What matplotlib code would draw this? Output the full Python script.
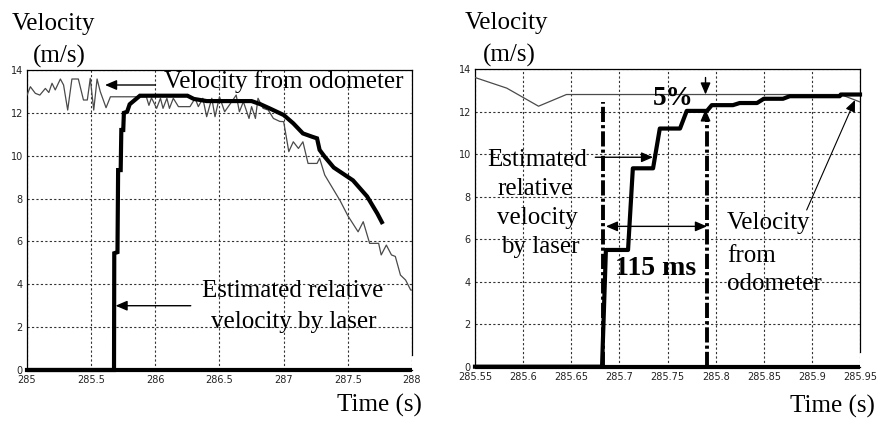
import matplotlib
matplotlib.use('Agg')
import matplotlib.pyplot as plt

# ---------------- data ----------------
# Left panel
left_xticks = [285, 285.5, 286, 286.5, 287, 287.5, 288]
left_xticklabels = ['285', '285.5', '286', '286.5', '287', '287.5', '288']
yticks = [0, 2, 4, 6, 8, 10, 12, 14]
yticklabels = ['0', '2', '4', '6', '8', '10', '12', '14']

odo_t_left = [285.0, 285.026, 285.065, 285.10, 285.143, 285.17, 285.195, 285.22,
              285.26, 285.285, 285.317, 285.35, 285.40, 285.44, 285.47, 285.493,
              285.52, 285.546, 285.571, 285.616, 285.65, 285.93, 285.95, 285.97,
              286.01, 286.04, 286.06, 286.09, 286.11, 286.14, 286.18, 286.27,
              286.31, 286.335, 286.37, 286.40, 286.44, 286.465, 286.50, 286.54,
              286.595, 286.63, 286.655, 286.686, 286.73, 286.75, 286.78, 286.80,
              286.84, 286.88, 286.92, 286.97, 287.0, 287.04, 287.075, 287.115,
              287.15, 287.19, 287.26, 287.28, 287.32, 287.37, 287.44, 287.50,
              287.58, 287.62, 287.67, 287.74, 287.76, 287.80, 287.84, 287.87,
              287.91, 287.95, 287.99, 288.0]
odo_v_left = [12.83, 13.22, 12.91, 12.83, 13.14, 12.95, 13.38, 13.07,
              13.58, 13.30, 12.13, 13.58, 13.58, 12.60, 12.60, 13.61,
              12.13, 13.58, 12.99, 12.24, 12.75, 12.75, 12.35, 12.70,
              12.21, 12.68, 12.21, 12.68, 12.21, 12.68, 12.29, 12.29,
              12.68, 12.29, 12.68, 11.82, 12.68, 11.82, 12.75, 12.05,
              12.52, 12.83, 12.05, 12.52, 11.74, 12.29, 11.74, 12.68,
              12.21, 12.13, 11.74, 11.60, 11.59, 10.19, 10.65, 10.34,
              10.65, 9.64, 9.64, 9.88, 9.10, 8.60, 7.90, 7.20,
              6.45, 6.92, 5.91, 5.91, 5.37, 5.83, 5.37, 5.30,
              4.43, 4.20, 3.73, 3.73]

laser_t_left = [285.0, 285.678, 285.68, 285.705, 285.71, 285.73, 285.735, 285.75,
                285.755, 285.78, 285.80, 285.84, 285.88, 286.25, 286.30, 286.40,
                286.75, 286.82, 286.89, 287.0, 287.075, 287.15, 287.22, 287.26,
                287.28, 287.32, 287.39, 287.54, 287.65, 287.73, 287.765]
laser_v_left = [0, 0, 5.45, 5.5, 9.33, 9.33, 11.2, 11.2,
                12.0, 12.05, 12.4, 12.6, 12.8, 12.8, 12.65, 12.55,
                12.55, 12.4, 12.21, 11.9, 11.51, 11.04, 10.89, 10.81,
                10.27, 9.95, 9.45, 8.85, 8.1, 7.3, 6.9]
baseline_t_left = [285.0, 288.0]
baseline_v_left = [0, 0]

# Right panel
right_xticks = [285.55, 285.6, 285.65, 285.7, 285.75, 285.8, 285.85, 285.9, 285.95]
right_xticklabels = ['285.55', '285.6', '285.65', '285.7', '285.75', '285.8',
                     '285.85', '285.9', '285.95']

odo_t_right = [285.55, 285.583, 285.616, 285.645, 285.93, 285.95]
odo_v_right = [13.6, 13.1, 12.25, 12.8, 12.8, 12.45]

laser_t_right = [285.55, 285.682, 285.686, 285.709, 285.714, 285.735, 285.742, 285.763,
                 285.770, 285.791, 285.796, 285.818, 285.825, 285.843, 285.85, 285.87,
                 285.877, 285.929, 285.93, 285.95]
laser_v_right = [0, 0, 5.49, 5.49, 9.33, 9.33, 11.2, 11.2,
                 12.03, 12.03, 12.3, 12.3, 12.4, 12.4, 12.6, 12.6,
                 12.72, 12.72, 12.8, 12.8]
baseline_t_right = [285.55, 285.95]
baseline_v_right = [0, 0]

# markers of the 115 ms interval
start_t = 285.683
end_t = 285.791

# ---------------- figure ----------------
serif = 'Liberation Serif'
fig = plt.figure(figsize=(8.8, 4.23), dpi=100)
axL = fig.add_axes([27 / 880, 53 / 423, 385 / 880, 300 / 423])
axR = fig.add_axes([475 / 880, 56.3 / 423, 385 / 880, 297.7 / 423])

for ax in (axL, axR):
    ax.set_ylim(0, 14)
    ax.set_yticks(yticks)
    ax.set_yticklabels(yticklabels)
    ax.grid(True, color='#333333', linestyle=(0, (2, 2)), linewidth=0.8)
    ax.set_axisbelow(True)
    ax.tick_params(length=0, labelsize=7, pad=3, colors='#222222')
    for lab in ax.get_xticklabels() + ax.get_yticklabels():
        lab.set_fontfamily('DejaVu Sans')
    for sp in ax.spines.values():
        sp.set_linewidth(0.9)
        sp.set_color('black')
    ax.spines['right'].set_bounds(0.7, 14)

axL.set_xlim(285, 288)
axL.set_xticks(left_xticks)
axL.set_xticklabels(left_xticklabels, fontfamily='DejaVu Sans')
axR.set_xlim(285.55, 285.95)
axR.set_xticks(right_xticks)
axR.set_xticklabels(right_xticklabels, fontfamily='DejaVu Sans')
for ax in (axL, axR):
    ax.tick_params(axis='x', pad=3.5)

# ---- left panel lines
axL.plot(odo_t_left, odo_v_left, color='#4a4a4a', lw=0.9, zorder=3)
axL.plot(laser_t_left, laser_v_left, color='black', lw=3, zorder=4,
         solid_joinstyle='miter', clip_on=False)
axL.plot(baseline_t_left, baseline_v_left, color='black', lw=3, zorder=4,
         clip_on=False, solid_capstyle='butt')

arrow_kw = dict(arrowstyle='-|>,head_length=0.7,head_width=0.3', color='black',
                lw=1, shrinkA=0, shrinkB=0, mutation_scale=10)

axL.annotate('', xy=(285.608, 13.3), xytext=(286.0, 13.3), arrowprops=arrow_kw, zorder=6)
axL.text(286.07, 13.14, 'Velocity from odometer', family=serif, fontsize=18,
         ha='left', va='baseline', zorder=6)
axL.annotate('', xy=(285.69, 3.0), xytext=(286.276, 3.0), arrowprops=arrow_kw, zorder=6)
axL.text(287.07, 3.42, 'Estimated relative', family=serif, fontsize=18,
         ha='center', va='baseline', zorder=6)
axL.text(287.075, 1.94, 'velocity by laser', family=serif, fontsize=18,
         ha='center', va='baseline', zorder=6)

# ---- right panel lines
axR.plot(odo_t_right, odo_v_right, color='#4a4a4a', lw=0.9, zorder=3)
axR.plot(laser_t_right, laser_v_right, color='black', lw=3, zorder=4, clip_on=False)
axR.plot(baseline_t_right, baseline_v_right, color='black', lw=3, zorder=4,
         clip_on=False, solid_capstyle='butt')

dd = (0, (3.9, 0.8, 0.8, 0.8))
axR.plot([start_t, start_t], [0, 12.47], color='black', lw=2.8, linestyle=dd, zorder=5)
axR.plot([end_t, end_t], [0, 11.7], color='black', lw=2.8, linestyle=dd, zorder=5)

# 115 ms double arrow
axR.annotate('', xy=(start_t + 0.003, 6.6), xytext=(end_t, 6.6),
             arrowprops=dict(arrowstyle='<|-|>,head_length=0.7,head_width=0.3',
                             color='black', lw=1, shrinkA=0, shrinkB=0,
                             mutation_scale=10), zorder=6)
axR.text(285.738, 4.3, '115 ms', family=serif, fontsize=20, fontweight='bold',
         ha='center', va='baseline', zorder=6)

# 5% arrows
axR.annotate('', xy=(285.7895, 12.8), xytext=(285.7895, 13.6), arrowprops=arrow_kw, zorder=6)
axR.annotate('', xy=(285.7895, 12.1), xytext=(285.7895, 11.7), arrowprops=arrow_kw, zorder=6)
axR.text(285.756, 12.3, '5%', family=serif, fontsize=19.5, fontweight='bold',
         ha='center', va='baseline', zorder=6)

# Estimated relative velocity by laser (right)
axR.annotate('', xy=(285.735, 9.85), xytext=(285.675, 9.85), arrowprops=arrow_kw, zorder=6)
for txt, xv, yv in [('Estimated', 285.615, 9.44), ('relative', 285.612, 8.09),
                    ('velocity', 285.615, 6.71), ('by laser', 285.618, 5.34)]:
    axR.text(xv, yv, txt, family=serif, fontsize=18, ha='center', va='baseline', zorder=6)

# Velocity from odometer (right)
axR.annotate('', xy=(285.9448, 12.54), xytext=(285.8946, 7.37),
             arrowprops=dict(arrowstyle='-|>,head_length=0.7,head_width=0.3',
                             color='black', lw=0.8, shrinkA=0, shrinkB=0,
                             mutation_scale=10), zorder=6)
for txt, yv in [('Velocity', 6.46), ('from', 4.94), ('odometer', 3.61)]:
    axR.text(285.812, yv, txt, family=serif, fontsize=18, ha='left', va='baseline', zorder=6)

# axis titles
fig.text(12 / 880, 1 - 30 / 423, 'Velocity', family=serif, fontsize=18, ha='left', va='baseline')
fig.text(33 / 880, 1 - 62.5 / 423, '(m/s)', family=serif, fontsize=18, ha='left', va='baseline')
fig.text(465 / 880, 1 - 29.5 / 423, 'Velocity', family=serif, fontsize=18, ha='left', va='baseline')
fig.text(483 / 880, 1 - 61.7 / 423, '(m/s)', family=serif, fontsize=18, ha='left', va='baseline')
fig.text(422 / 880, 1 - 411.7 / 423, 'Time (s)', family=serif, fontsize=18, ha='right', va='baseline')
fig.text(875 / 880, 1 - 413 / 423, 'Time (s)', family=serif, fontsize=18, ha='right', va='baseline')

fig.savefig('out.png', dpi=100)
